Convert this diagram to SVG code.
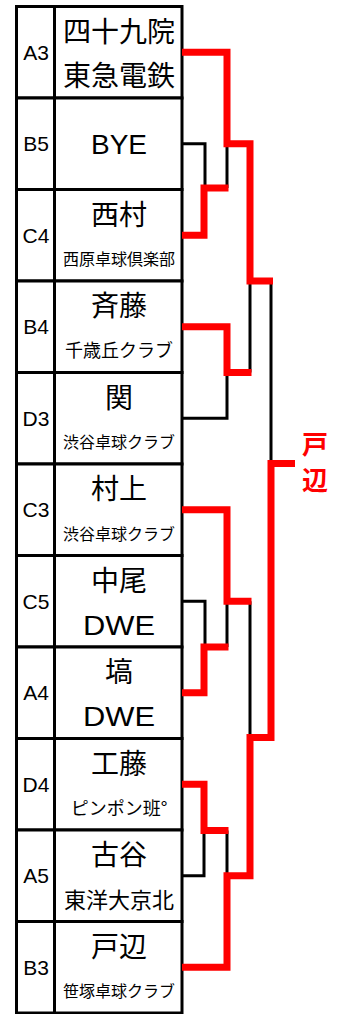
<svg xmlns="http://www.w3.org/2000/svg" width="342" height="1014" viewBox="0 0 342 1014">
<style>
.cell{fill:#fff;stroke:#000;stroke-width:3}
.div{stroke:#000;stroke-width:3}
.seed{font-family:"Liberation Sans",Arial,sans-serif;font-size:21px;text-anchor:middle;fill:#000}
.name{font-family:"Noto Sans CJK JP",sans-serif;font-size:28px;text-anchor:middle;fill:#000}
.lat{font-family:"Liberation Sans",Arial,sans-serif;font-size:28px;text-anchor:middle;fill:#000}
.club{font-family:"Noto Sans CJK JP",sans-serif;font-size:16px;text-anchor:middle;fill:#000}
.lose{fill:none;stroke:#000;stroke-width:3}
.win{fill:none;stroke:#f00;stroke-width:7;stroke-linejoin:miter}
.champ{font-family:"Noto Sans CJK JP",sans-serif;font-size:26px;font-weight:bold;text-anchor:middle;fill:#f00}
</style>
<rect width="342" height="1014" fill="#fff"/>
<g id="n-A3"><rect class="cell" x="16.5" y="6.5" width="165.5" height="91.5"/><line class="div" x1="54.5" y1="6.5" x2="54.5" y2="98"/><text class="seed" x="36" y="59.75">A3</text><text class="name" x="119" y="41.5">四十九院</text><text class="name" x="119" y="85.5">東急電鉄</text></g>
<g id="n-B5"><rect class="cell" x="16.5" y="98" width="165.5" height="91.5"/><line class="div" x1="54.5" y1="98" x2="54.5" y2="189.5"/><text class="seed" x="36" y="151.25">B5</text><text class="lat" x="119" y="153.75">BYE</text></g>
<g id="n-C4"><rect class="cell" x="16.5" y="189.5" width="165.5" height="91.5"/><line class="div" x1="54.5" y1="189.5" x2="54.5" y2="281"/><text class="seed" x="36" y="242.75">C4</text><text class="name" x="119" y="224.5">西村</text><text class="club" x="119" y="265">西原卓球倶楽部</text></g>
<g id="n-B4"><rect class="cell" x="16.5" y="281" width="165.5" height="91.5"/><line class="div" x1="54.5" y1="281" x2="54.5" y2="372.5"/><text class="seed" x="36" y="334.25">B4</text><text class="name" x="119" y="316">斉藤</text><text class="club" x="119" y="357.3" style="font-size:18px">千歳丘クラブ</text></g>
<g id="n-D3"><rect class="cell" x="16.5" y="372.5" width="165.5" height="91.5"/><line class="div" x1="54.5" y1="372.5" x2="54.5" y2="464"/><text class="seed" x="36" y="425.75">D3</text><text class="name" x="119" y="407.5">関</text><text class="club" x="119" y="448">渋谷卓球クラブ</text></g>
<g id="n-C3"><rect class="cell" x="16.5" y="464" width="165.5" height="91.5"/><line class="div" x1="54.5" y1="464" x2="54.5" y2="555.5"/><text class="seed" x="36" y="517.25">C3</text><text class="name" x="119" y="499">村上</text><text class="club" x="119" y="539.5">渋谷卓球クラブ</text></g>
<g id="n-C5"><rect class="cell" x="16.5" y="555.5" width="165.5" height="91.5"/><line class="div" x1="54.5" y1="555.5" x2="54.5" y2="647"/><text class="seed" x="36" y="608.75">C5</text><text class="name" x="119" y="590.5">中尾</text><text class="lat" x="119" y="634.5" textLength="72" lengthAdjust="spacingAndGlyphs">DWE</text></g>
<g id="n-A4"><rect class="cell" x="16.5" y="647" width="165.5" height="91.5"/><line class="div" x1="54.5" y1="647" x2="54.5" y2="738.5"/><text class="seed" x="36" y="700.25">A4</text><text class="name" x="119" y="682">塙</text><text class="lat" x="119" y="726" textLength="72" lengthAdjust="spacingAndGlyphs">DWE</text></g>
<g id="n-D4"><rect class="cell" x="16.5" y="738.5" width="165.5" height="91.5"/><line class="div" x1="54.5" y1="738.5" x2="54.5" y2="830"/><text class="seed" x="36" y="791.75">D4</text><text class="name" x="119" y="773.5">工藤</text><text class="club" x="119" y="815.3" style="font-size:18px">ピンポン班°</text></g>
<g id="n-A5"><rect class="cell" x="16.5" y="830" width="165.5" height="91.5"/><line class="div" x1="54.5" y1="830" x2="54.5" y2="921.5"/><text class="seed" x="36" y="883.25">A5</text><text class="name" x="119" y="865">古谷</text><text class="club" x="119" y="908.4" style="font-size:22px">東洋大京北</text></g>
<g id="n-B3"><rect class="cell" x="16.5" y="921.5" width="165.5" height="91.5"/><line class="div" x1="54.5" y1="921.5" x2="54.5" y2="1013"/><text class="seed" x="36" y="974.75">B3</text><text class="name" x="119" y="956.5">戸辺</text><text class="club" x="119" y="997">笹塚卓球クラブ</text></g>
<g id="connectors">
<path class="lose" d="M182,143.75 H205 V188"/>
<path class="lose" d="M227,143.75 V188"/>
<path class="lose" d="M182,418.25 H227 V372.5"/>
<path class="lose" d="M250,281 V372.5"/>
<path class="lose" d="M271,281 V463.5"/>
<path class="lose" d="M182,601.25 H205 V647"/>
<path class="lose" d="M227,601.25 V647"/>
<path class="lose" d="M250,601.25 V737.5"/>
<path class="lose" d="M182,875.75 H204 V830.5"/>
<path class="lose" d="M227,830.5 V875.75"/>
<path class="win" d="M182,52.25 H227 V143.75 H250 V281 H273"/>
<path class="win" d="M182,235.25 H204 V188 H228.5"/>
<path class="win" d="M182,326.75 H227 V372.5 H251.5"/>
<path class="win" d="M182,509.75 H227 V601.25 H251.5"/>
<path class="win" d="M182,692.75 H204 V647 H228.5"/>
<path class="win" d="M182,784.25 H204 V830.5 H228.5"/>
<path class="win" d="M182,967.25 H227 V875.75 H250 V737.5 H271 V463.5 H295"/>
</g>
<g id="champion"><text class="champ" x="315" y="454.2">戸</text><text class="champ" x="315" y="489.6">辺</text></g>
</svg>
